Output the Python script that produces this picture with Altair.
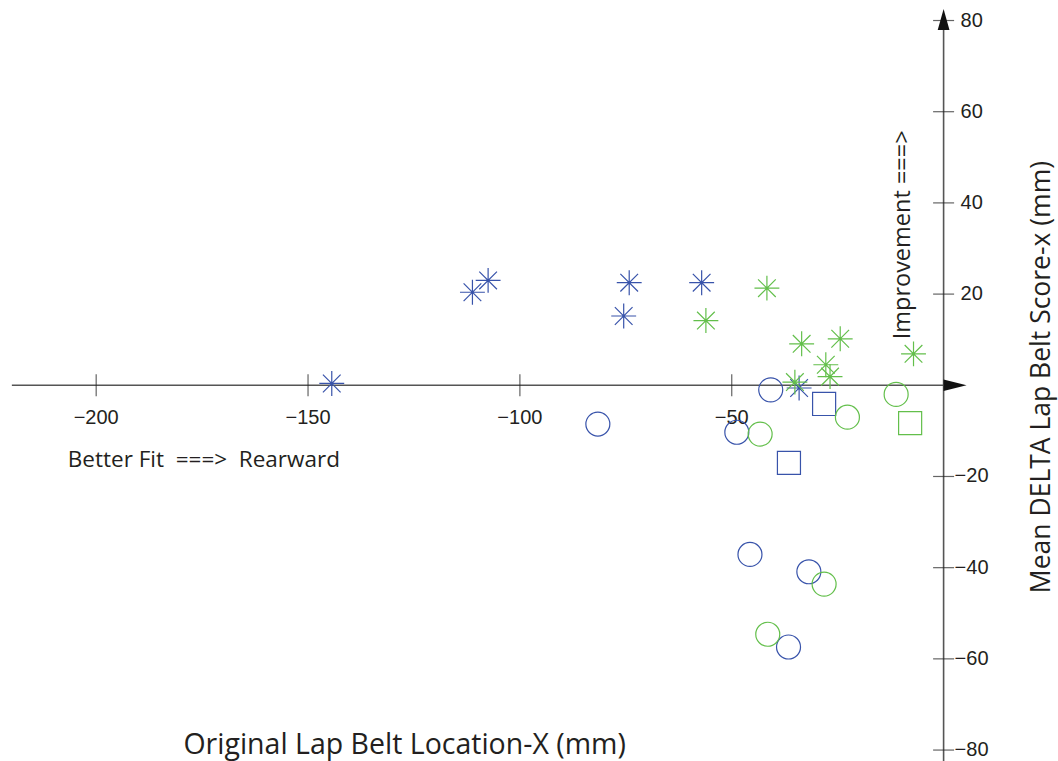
import altair as alt
import pandas as pd

# ---- data ----
blue_ast_x = [-144.4, -111.2, -107.5, -74.2, -75.5, -57.1, -34.1]
blue_ast_y = [0.4, 20.4, 23.0, 22.5, 15.2, 22.5, -0.6]
green_ast_x = [-41.7, -56.1, -33.5, -24.4, -27.8, -26.8, -35.1, -7.1]
green_ast_y = [21.3, 14.2, 9.1, 10.2, 4.5, 1.9, 0.7, 6.9]
blue_circ_x = [-40.8, -81.6, -48.8, -45.7, -31.8, -36.6]
blue_circ_y = [-1.0, -8.5, -10.3, -37.1, -40.9, -57.4]
green_circ_x = [-43.3, -22.7, -11.2, -28.2, -41.5]
green_circ_y = [-10.7, -7.0, -2.0, -43.6, -54.6]
blue_sq_x = [-28.2, -36.5]
blue_sq_y = [-4.1, -17.0]
green_sq_x = [-7.9]
green_sq_y = [-8.3]

x_ticks = [-200, -150, -100, -50]
y_ticks = [-80, -60, -40, -20, 20, 40, 60, 80]

BLUE = "#3853aa"
GREEN = "#63bf4b"

rows = []
def add(xs, ys, grp, shp):
    for a, b in zip(xs, ys):
        rows.append({"x": a, "y": b, "group": grp, "shape": shp})

add(blue_ast_x, blue_ast_y, "blue", "asterisk")
add(blue_circ_x, blue_circ_y, "blue", "circle")
add(blue_sq_x, blue_sq_y, "blue", "square")
add(green_ast_x, green_ast_y, "green", "asterisk")
add(green_circ_x, green_circ_y, "green", "circle")
add(green_sq_x, green_sq_y, "green", "square")
pts = pd.DataFrame(rows)

W, H = 1058, 761
xs = alt.Scale(domain=[-222.7, 27.0], nice=False, zero=False)
ys = alt.Scale(domain=[-82.4, 84.5], nice=False, zero=False)

ASTERISK = "M0,-1L0,1M-1,0L1,0M-0.71,-0.71L0.71,0.71M-0.71,0.71L0.71,-0.71"

points = alt.Chart(pts).mark_point(filled=False, strokeWidth=1.2, opacity=1).encode(
    x=alt.X("x:Q", scale=xs, axis=None),
    y=alt.Y("y:Q", scale=ys, axis=None),
    color=alt.Color("group:N", scale=alt.Scale(domain=["blue", "green"], range=[BLUE, GREEN]), legend=None),
    shape=alt.Shape("shape:N", scale=alt.Scale(domain=["asterisk", "circle", "square"],
                                               range=[ASTERISK, "circle", "square"]), legend=None),
    size=alt.Size("shape:N", scale=alt.Scale(domain=["asterisk", "circle", "square"],
                                             range=[620, 531, 441]), legend=None),
)

# axis lines
haxis = pd.DataFrame({"x": [-219.9], "x2": [2.0], "y": [0]})
vaxis = pd.DataFrame({"x": [0], "y": [-82.4], "y2": [78.0]})
hline = alt.Chart(haxis).mark_rule(color="#555555", strokeWidth=1.6).encode(
    x=alt.X("x:Q", scale=xs, axis=None), x2="x2:Q", y=alt.Y("y:Q", scale=ys, axis=None))
vline = alt.Chart(vaxis).mark_rule(color="#555555", strokeWidth=1.6).encode(
    x=alt.X("x:Q", scale=xs, axis=None), y=alt.Y("y:Q", scale=ys, axis=None), y2="y2:Q")

# ticks
xt = pd.DataFrame({"t": x_ticks, "lab": ["\u2212" + str(abs(v)) for v in x_ticks]})
yt = pd.DataFrame({"t": y_ticks, "lab": [("\u2212" + str(abs(v))) if v < 0 else str(v) for v in y_ticks]})

xtick = alt.Chart(xt).mark_tick(orient="vertical", size=22, thickness=1.2, color="#222222").encode(
    x=alt.X("t:Q", scale=xs, axis=None), y=alt.Y(datum=0, scale=ys, axis=None))
ytick = alt.Chart(yt).mark_tick(orient="horizontal", size=21, thickness=1.2, color="#222222").encode(
    y=alt.Y("t:Q", scale=ys, axis=None), x=alt.X(datum=0, scale=xs, axis=None))

xlab = alt.Chart(xt).mark_text(font="Liberation Sans", fontSize=20, color="#231f20",
                               align="center", baseline="middle").encode(
    x=alt.X("t:Q", scale=xs, axis=None), y=alt.Y(datum=-7.2, scale=ys, axis=None), text="lab:N")
ylab_neg = alt.Chart(yt).transform_filter("datum.t < 0").mark_text(
    font="Liberation Sans", fontSize=20, color="#231f20", align="left", baseline="middle", dx=11).encode(
    y=alt.Y("t:Q", scale=ys, axis=None), x=alt.X(datum=0, scale=xs, axis=None), text="lab:N")
ylab_pos = alt.Chart(yt).transform_filter("datum.t > 0").mark_text(
    font="Liberation Sans", fontSize=20, color="#231f20", align="left", baseline="middle", dx=17).encode(
    y=alt.Y("t:Q", scale=ys, axis=None), x=alt.X(datum=0, scale=xs, axis=None), text="lab:N")

# arrow heads
arr = pd.DataFrame({"x": [2.7, 0.0], "y": [0.0, 80.2], "k": ["right", "up"]})
arrows = alt.Chart(arr).mark_point(filled=True, color="#111111", opacity=1, strokeWidth=0).encode(
    x=alt.X("x:Q", scale=xs, axis=None), y=alt.Y("y:Q", scale=ys, axis=None),
    shape=alt.Shape("k:N", scale=alt.Scale(domain=["right", "up"],
                                           range=["M-1,-0.5L1,0L-1,0.5Z", "M-0.56,1L0,-1L0.56,1Z"]), legend=None),
    size=alt.Size("k:N", scale=alt.Scale(domain=["right", "up"], range=[529, 441]), legend=None),
)

# annotation texts
ann = pd.DataFrame({
    "x": [-206.7, -127.2, 23.3, -9.6],
    "y": [-16.4, -78.9, 1.8, 33.0],
    "txt": ["Better Fit\u00a0 ===>\u00a0 Rearward", "Original Lap Belt Location-X (mm)",
            "Mean DELTA Lap Belt Score-x (mm)", "Improvement ===>"],
})
t1 = alt.Chart(ann.iloc[[0]]).mark_text(font="Open Sans", fontSize=22.5, color="#231f20",
                                         align="left", baseline="middle").encode(
    x=alt.X("x:Q", scale=xs, axis=None), y=alt.Y("y:Q", scale=ys, axis=None), text="txt:N")
t2 = alt.Chart(ann.iloc[[1]]).mark_text(font="Open Sans", fontSize=28.5, color="#231f20",
                                         align="center", baseline="middle").encode(
    x=alt.X("x:Q", scale=xs, axis=None), y=alt.Y("y:Q", scale=ys, axis=None), text="txt:N")
t3 = alt.Chart(ann.iloc[[2]]).mark_text(font="Open Sans", fontSize=26.5, color="#231f20",
                                         align="center", baseline="middle", angle=270).encode(
    x=alt.X("x:Q", scale=xs, axis=None), y=alt.Y("y:Q", scale=ys, axis=None), text="txt:N")
t4 = alt.Chart(ann.iloc[[3]]).mark_text(font="Open Sans", fontSize=23.5, color="#231f20",
                                         align="center", baseline="middle", angle=270).encode(
    x=alt.X("x:Q", scale=xs, axis=None), y=alt.Y("y:Q", scale=ys, axis=None), text="txt:N")

chart = alt.layer(hline, vline, xtick, ytick, xlab, ylab_neg, ylab_pos, arrows, t1, t2, t3, t4, points).properties(
    width=W, height=H, autosize=alt.AutoSizeParams(type="none"), padding=0,
    background="white",
).resolve_scale(shape="independent", size="independent").configure_view(stroke="transparent")

chart.save("out.html", embed_options={"renderer": "svg", "actions": False})
